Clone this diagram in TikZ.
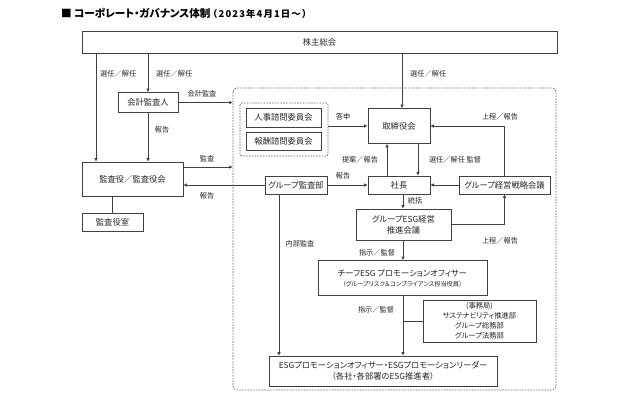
\documentclass[tikz,border=0pt]{standalone}
\usepackage{fontspec}
\setmainfont{Noto Sans CJK JP}[RawFeature=+palt]
\newfontfamily\plainjp{Noto Sans CJK JP}[LetterSpace=12]
\usetikzlibrary{arrows.meta,fit,positioning}
\definecolor{linec}{HTML}{404040}
\definecolor{txtc}{HTML}{262626}
\begin{document}
\begin{tikzpicture}[x=1bp,y=-1bp,
  box/.style={draw=linec,line width=0.7bp,fill=white,inner sep=0pt,align=center,text=txtc,font=\fontsize{8.3bp}{11bp}\selectfont},
  lbl/.style={inner sep=0pt,text=txtc,font=\fontsize{7.2bp}{9bp}\selectfont},
  arr/.style={draw=linec,line width=0.7bp,-{Latex[length=3.5bp,width=3.5bp]}},
  ln/.style={draw=linec,line width=0.7bp},
  dashreg/.style={draw=linec!80,line width=0.7bp,dash pattern=on 1.6bp off 1.2bp,rounded corners=4bp}]
\useasboundingbox (0,0) rectangle (627,393);
% title
\node[anchor=west,inner sep=0pt,font=\fontsize{10.6bp}{12bp}\selectfont\bfseries] (title) at (61,13) {■ コーポレート・ガバナンス体制};
\node[anchor=west,inner sep=0pt,font=\plainjp\fontsize{9.4bp}{12bp}\selectfont\bfseries] (subtitle) at (208,13.5) {（2023年4月1日～）};
% dashed regions
\draw[dashreg] (233,88) rectangle (556,390);
\node[inner sep=0pt,minimum width=323bp,minimum height=302bp] (region) at (394.5,239) {};
\draw[dashreg,rounded corners=2bp] (240,103) rectangle (328,156);
\node[inner sep=0pt,minimum width=88bp,minimum height=53bp] (inner) at (284,129.5) {};
% boxes
\node[box,minimum width=475bp,minimum height=22bp] (kabu) at (319.5,42) {株主総会};
\node[box,minimum width=60bp,minimum height=20bp] (kaikei) at (148,102.5) {会計監査人};
\node[box,minimum width=101bp,minimum height=34bp] (kansayaku) at (132.5,179) {監査役／監査役会};
\node[box,minimum width=61bp,minimum height=18bp] (shitsu) at (112.5,222) {監査役室};
\node[box,minimum width=75bp,minimum height=19bp] (jinji) at (283.5,117.5) {人事諮問委員会};
\node[box,minimum width=75bp,minimum height=18bp] (hoshu) at (283.5,141.5) {報酬諮問委員会};
\node[box,minimum width=62bp,minimum height=35bp] (tori) at (399,126) {取締役会};
\node[box,minimum width=62bp,minimum height=18bp] (shacho) at (399,185) {社長};
\node[box,minimum width=91bp,minimum height=18bp] (senryaku) at (504.5,185) {グループ経営戦略会議};
\node[box,minimum width=62bp,minimum height=18bp] (kansabu) at (296,185) {グループ監査部};
\node[box,minimum width=95bp,minimum height=31bp] (esg) at (403.5,224.5) {グループESG経営\\推進会議};
\node[box,minimum width=169bp,minimum height=35bp] (chief) at (402.5,278) {チーフESG プロモーションオフィサー\\[-1bp]{\fontsize{6.2bp}{8bp}\selectfont （グループリスク＆コンプライアンス担当役員）}};
\node[box,minimum width=113bp,minimum height=42bp,font=\fontsize{7.3bp}{10bp}\selectfont] (jimu) at (479.5,321) {(事務局)\\サステナビリティ推進部\\グループ総務部\\グループ法務部};
\node[box,minimum width=228bp,minimum height=30bp] (promo) at (383,371) {ESGプロモーションオフィサー・ESGプロモーションリーダー\\（各社・各部署のESG推進者）};
% helper coordinates
\coordinate (c96) at (96,0);
\coordinate (c402) at (402,0);
\coordinate (c387) at (387,0);
\coordinate (c418) at (418,0);
\coordinate (c403) at (403,0);
\coordinate (c279) at (279,0);
\coordinate (y167) at (0,167);
% connectors
\draw[arr] (kabu.south -| c96) -- (kansayaku.north -| c96);
\draw[arr] (kabu.south -| kaikei.north) -- (kaikei.north);
\draw[arr] (kabu.south -| c402) -- (tori.north -| c402);
\draw[arr] (kaikei.east) -- (kaikei.east -| region.west);
\draw[arr] (kaikei.south) -- (kaikei.south |- kansayaku.north);
\draw[arr] (kansayaku.east |- y167) -- (region.west |- y167);
\draw[arr] (kansabu.west) -- (kansabu.west -| kansayaku.east);
\draw[ln] (shitsu.north) -- (shitsu.north |- kansayaku.south);
\draw[arr] (inner.east |- tori.west) -- (tori.west);
\draw[arr] (shacho.north -| c387) -- (tori.south -| c387);
\draw[arr] (tori.south -| c418) -- (shacho.north -| c418);
\draw[arr] (senryaku.west) -- (shacho.east);
\draw[arr] (senryaku.north) |- (tori.east);
\draw[arr] (kansabu.east) -- (shacho.west);
\draw[arr] (shacho.south -| c403) -- (esg.north -| c403);
\draw[arr] (esg.east) -| (senryaku.south);
\draw[arr] (esg.south -| c403) -- (chief.north -| c403);
\draw[arr] (chief.south -| c403) -- (promo.north -| c403);
\draw[ln] (jimu.west) -- (jimu.west -| c403);
\draw[arr] (kansabu.south -| c279) -- (promo.north -| c279);
% labels
\node[lbl,anchor=west] (l1) at (100,74) {選任／解任};
\node[lbl,anchor=west] (l2) at (156,74) {選任／解任};
\node[lbl,anchor=west] (l3) at (410,74) {選任／解任};
\node[lbl] (l4) at (202,94) {会計監査};
\node[lbl] (l5) at (162,130) {報告};
\node[lbl] (l6) at (207,159) {監査};
\node[lbl] (l7) at (207,196) {報告};
\node[lbl] (l8) at (343,117) {答申};
\node[lbl] (l9) at (500,117) {上程／報告};
\node[lbl] (l10) at (360,160) {提案／報告};
\node[lbl] (l11) at (455,160) {選任／解任 監督};
\node[lbl] (l12) at (343,176) {報告};
\node[lbl] (l13) at (415,201) {統括};
\node[lbl] (l14) at (500,241) {上程／報告};
\node[lbl] (l15) at (300,244) {内部監査};
\node[lbl] (l16) at (377,253) {指示／監督};
\node[lbl] (l17) at (376,310) {指示／監督};
\end{tikzpicture}
\end{document}
